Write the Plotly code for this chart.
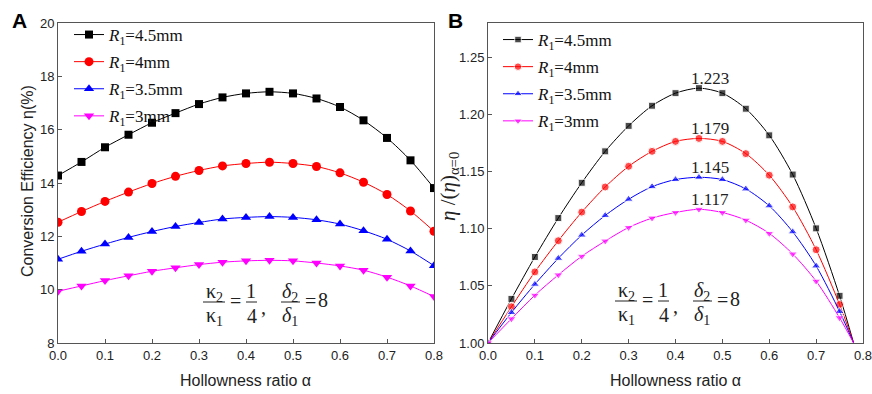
import plotly.graph_objects as go

W, H = 872, 394

# ---------------- data ----------------
alpha_A = [0.0, 0.05, 0.1, 0.15, 0.2, 0.25, 0.3, 0.35, 0.4, 0.45, 0.5, 0.55, 0.6, 0.65, 0.7, 0.75, 0.8]
eta_45 = [14.28, 14.79, 15.34, 15.81, 16.26, 16.62, 16.96, 17.21, 17.36, 17.42, 17.36, 17.17, 16.85, 16.35, 15.69, 14.85, 13.81]
eta_40 = [12.53, 12.93, 13.31, 13.66, 13.98, 14.25, 14.47, 14.64, 14.73, 14.78, 14.73, 14.62, 14.38, 14.03, 13.57, 12.95, 12.19]
eta_35 = [11.14, 11.44, 11.71, 11.96, 12.18, 12.37, 12.52, 12.65, 12.71, 12.74, 12.71, 12.62, 12.46, 12.21, 11.89, 11.45, 10.90]
eta_30 = [9.94, 10.14, 10.34, 10.52, 10.69, 10.82, 10.94, 11.03, 11.08, 11.10, 11.08, 11.00, 10.89, 10.73, 10.47, 10.14, 9.74]

alpha_B = [0.0, 0.05, 0.1, 0.15, 0.2, 0.25, 0.3, 0.35, 0.4, 0.45, 0.5, 0.55, 0.6, 0.65, 0.7, 0.75, 0.78]
ratio_45 = [1.0, 1.0386, 1.0753, 1.1093, 1.1402, 1.1677, 1.190, 1.2076, 1.2186, 1.223, 1.2186, 1.205, 1.1817, 1.1474, 1.1003, 1.0413, 1.0]
ratio_40 = [1.0, 1.0317, 1.0622, 1.0895, 1.1145, 1.1365, 1.1546, 1.1677, 1.1764, 1.179, 1.1764, 1.1657, 1.1468, 1.1191, 1.0816, 1.0337, 1.0]
ratio_35 = [1.0, 1.0267, 1.0514, 1.0741, 1.0944, 1.1116, 1.1258, 1.1368, 1.143, 1.145, 1.143, 1.1348, 1.12, 1.0973, 1.0674, 1.0276, 1.0]
ratio_30 = [1.0, 1.0212, 1.0418, 1.0596, 1.0759, 1.0892, 1.1011, 1.1093, 1.1142, 1.117, 1.1142, 1.1075, 1.0959, 1.0779, 1.0541, 1.0221, 1.0]

series_names = ["<i>R</i><sub>1</sub>=4.5mm", "<i>R</i><sub>1</sub>=4mm",
                "<i>R</i><sub>1</sub>=3.5mm", "<i>R</i><sub>1</sub>=3mm"]
peak_alpha = 0.45
peak_values = [1.223, 1.179, 1.145, 1.117]
peak_labels = ["1.223", "1.179", "1.145", "1.117"]

x_ticks = [0.0, 0.1, 0.2, 0.3, 0.4, 0.5, 0.6, 0.7, 0.8]
yA_ticks = [8, 10, 12, 14, 16, 18, 20]
yB_ticks = [1.00, 1.05, 1.10, 1.15, 1.20, 1.25]

# ---------------- styles ----------------
colors = ["#000000", "#ff0000", "#0000ff", "#ff00ff"]
symbols = ["square", "circle", "triangle-up", "triangle-down"]
sizesA = [8, 9, 9, 9]
sizesB = [7, 8, 8, 8]
SERIF = "Liberation Serif"
SANS = "Liberation Sans"

def px(x):
    return x / W

def py(y):
    return 1 - y / H

fig = go.Figure()

for ys, name, c, s, ms in zip([eta_45, eta_40, eta_35, eta_30], series_names, colors, symbols, sizesA):
    fig.add_trace(go.Scatter(
        x=alpha_A, y=ys, name=name, mode="lines+markers",
        line=dict(color=c, width=1, shape="spline", smoothing=0.8),
        marker=dict(symbol=s, size=ms, color=c),
        xaxis="x", yaxis="y", legend="legend", legendgroup=name + "A"))

for ys, name, c, s, ms in zip([ratio_45, ratio_40, ratio_35, ratio_30], series_names, colors, symbols, sizesB):
    msz = [ms] * (len(alpha_B) - 1) + [0]
    fig.add_trace(go.Scatter(
        x=alpha_B, y=ys, name=name, mode="lines+markers",
        line=dict(color=c, width=1, shape="spline", smoothing=0.8),
        marker=dict(symbol=s, size=msz, color=c),
        xaxis="x2", yaxis="y2", legend="legend2", legendgroup=name + "B"))

axis_common = dict(
    showline=True, mirror=True, linecolor="#555555", linewidth=1,
    ticks="inside", ticklen=4, tickcolor="#555555",
    showgrid=False, zeroline=False, automargin=False, ticklabeloverflow="allow",
    tickfont=dict(family=SANS, size=13, color="#222222"),
)

ydom = [py(343), py(23)]
fig.update_layout(
    width=W, height=H,
    margin=dict(l=0, r=0, t=0, b=0, autoexpand=False),
    paper_bgcolor="white", plot_bgcolor="white",
    xaxis=dict(domain=[px(58), px(434)], range=[0, 0.8], tickvals=x_ticks, tickformat=".1f",
               anchor="y", **axis_common),
    yaxis=dict(domain=ydom, range=[8, 20], tickvals=yA_ticks, anchor="x", **axis_common),
    xaxis2=dict(domain=[px(488), px(863)], range=[0, 0.8], tickvals=x_ticks, tickformat=".1f",
                anchor="y2", **axis_common),
    yaxis2=dict(domain=ydom, range=[1.0, 1.28], tickvals=yB_ticks, tickformat=".2f",
                anchor="x2", **axis_common),
    legend=dict(x=px(69), y=py(17), xanchor="left", yanchor="top", bgcolor="rgba(0,0,0,0)",
                font=dict(family=SERIF, size=17, color="#111111"), tracegroupgap=2,
                itemsizing="trace"),
    legend2=dict(x=px(498), y=py(22), xanchor="left", yanchor="top", bgcolor="rgba(0,0,0,0)",
                 font=dict(family=SERIF, size=17, color="#111111"), tracegroupgap=2,
                 itemsizing="trace"),
    showlegend=True,
)

ann = []

def text_at(x, y, t, font, angle=0):
    ann.append(dict(x=px(x), y=py(y), xref="paper", yref="paper", text=t, textangle=angle,
                    xanchor="center", yanchor="middle", showarrow=False, font=font))

# axis titles
text_at(27, 181, "Conversion Efficiency η(%)", dict(family=SANS, size=16, color="#222222"), -90)
text_at(246, 380, "Hollowness ratio α", dict(family=SANS, size=16, color="#222222"))
text_at(675, 380, "Hollowness ratio α", dict(family=SANS, size=16, color="#222222"))
text_at(449, 187, "<i>η</i> /(<i>η</i>)<sub>α=0</sub>", dict(family=SERIF, size=21, color="#222222"), -90)
# panel labels
text_at(19, 20, "<b>A</b>", dict(family=SANS, size=21, color="black"))
text_at(455, 20, "<b>B</b>", dict(family=SANS, size=21, color="black"))
# peak labels
for v, lab in zip(peak_values, peak_labels):
    ann.append(dict(x=peak_alpha, y=v, xref="x2", yref="y2", text=lab, showarrow=False,
                    xanchor="center", yanchor="middle",
                    xshift=11, yshift=10, font=dict(family=SERIF, size=17, color="#222222")))

shapes = []
ffont = dict(family=SERIF, size=20, color="#222222")

def formula(x0, ybar):
    items = [
        (x0, ybar - 9, "κ<sub>2</sub>"), (x0, ybar + 15, "κ<sub>1</sub>"),
        (x0 + 21, ybar, "="),
        (x0 + 37, ybar - 10, "1"), (x0 + 38, ybar + 15, "4"),
        (x0 + 49, ybar + 6, ","),
        (x0 + 76, ybar - 9, "<i>δ</i><sub>2</sub>"), (x0 + 76, ybar + 15, "<i>δ</i><sub>1</sub>"),
        (x0 + 96, ybar, "="), (x0 + 109, ybar - 1, "8"),
    ]
    for xx, yy, t in items:
        text_at(xx, yy, t, ffont)
    for xa, xb in [(x0 - 11, x0 + 11), (x0 + 32, x0 + 43), (x0 + 67, x0 + 86)]:
        shapes.append(dict(type="line", xref="paper", yref="paper", x0=px(xa), x1=px(xb),
                           y0=py(ybar + 1), y1=py(ybar + 1), line=dict(color="#222222", width=1)))

formula(214, 301)
formula(626, 300)

fig.update_layout(annotations=ann, shapes=shapes)
fig.write_html("out.html", config={"displayModeBar": False},
               post_script="document.body.style.margin='0px';document.body.style.overflow='hidden';")
